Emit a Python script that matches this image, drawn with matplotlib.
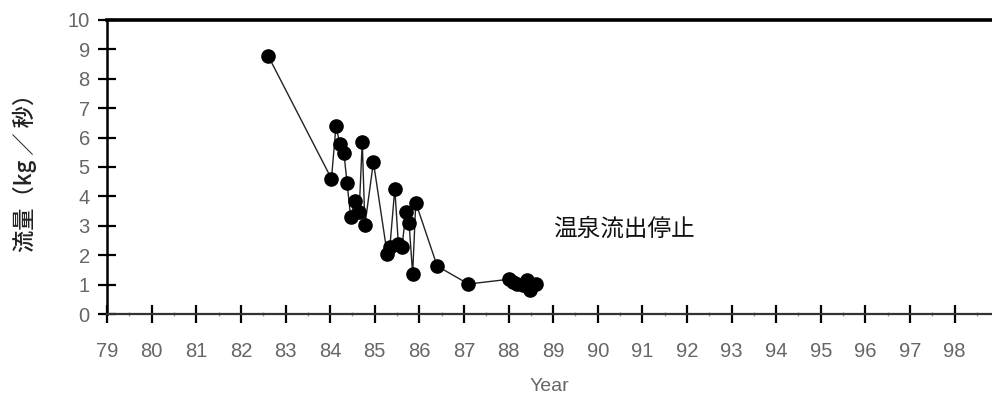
import matplotlib.pyplot as plt
from matplotlib.ticker import MultipleLocator

plt.rcParams['font.family'] = ['Liberation Sans', 'Noto Sans CJK JP', 'DejaVu Sans']

# flow rate readings (year 19xx, kg/s)
years = [82.61, 84.03, 84.13, 84.22, 84.31, 84.38, 84.46, 84.55, 84.65, 84.72,
         84.78, 84.97, 85.28, 85.34, 85.45, 85.53, 85.61, 85.70, 85.77, 85.85,
         85.92, 86.40, 87.10, 88.00, 88.10, 88.20, 88.32, 88.42, 88.48, 88.62]
flow = [8.78, 4.60, 6.38, 5.78, 5.47, 4.44, 3.31, 3.85, 3.48, 5.85,
        3.02, 5.17, 2.04, 2.29, 4.26, 2.38, 2.27, 3.47, 3.08, 1.36,
        3.79, 1.63, 1.02, 1.18, 1.08, 1.02, 1.00, 1.15, 0.80, 1.03]

xticks = list(range(79, 99))
yticks = list(range(0, 11))
note = '温泉流出停止'
ylab = '流量（kg ／ 秒）'

fig = plt.figure(figsize=(9.92, 3.99), dpi=100)
ax = fig.add_axes([0.108, 0.213, 0.892, 0.737])

ax.plot(years, flow, color='#222222', lw=1.0, marker='o', ms=9.5,
        mfc='black', mec='black', zorder=3)

ax.set_xlim(79, 98.84)
ax.set_ylim(0, 10)
ax.set_xticks(xticks)
ax.set_yticks(yticks)
ax.xaxis.set_minor_locator(MultipleLocator(0.5))

ax.tick_params(axis='both', which='major', direction='inout', length=13,
               width=1.6, color='black', labelsize=14.5, labelcolor='#666666')
ax.tick_params(axis='x', which='major', pad=14)
ax.tick_params(axis='y', which='major', pad=6)
ax.tick_params(axis='x', which='minor', direction='inout', length=3,
               width=1.0, color='#999999')

ax.spines['right'].set_visible(False)
ax.spines['top'].set_linewidth(2.6)
ax.spines['left'].set_linewidth(1.8)
ax.spines['bottom'].set_linewidth(1.6)
ax.spines['bottom'].set_color('#333333')

ax.set_xlabel('Year', fontsize=14, color='#666666', labelpad=12)
ax.set_ylabel(ylab, fontsize=16, color='#222222', labelpad=22, weight='medium',
              family=['Noto Sans CJK JP', 'DejaVu Sans'])

ax.text(89.0, 2.89, note, fontsize=17, color='#111111', va='center', ha='left',
        family=['Noto Sans CJK JP', 'DejaVu Sans'])

fig.savefig('out.png', dpi=100)
